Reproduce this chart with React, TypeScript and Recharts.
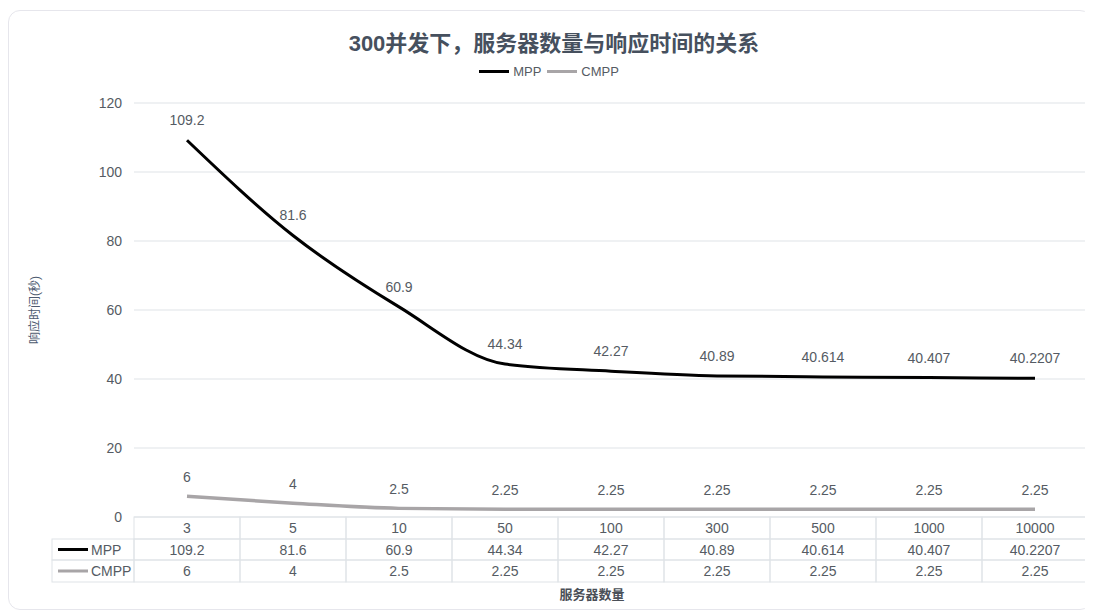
import { LineChart, Line, XAxis, YAxis, CartesianGrid, Legend, LabelList } from "recharts";

const servers = ["3", "5", "10", "50", "100", "300", "500", "1000", "10000"];
const mpp = [109.2, 81.6, 60.9, 44.34, 42.27, 40.89, 40.614, 40.407, 40.2207];
const cmpp = [6, 4, 2.5, 2.25, 2.25, 2.25, 2.25, 2.25, 2.25];
const yTicks = [0, 20, 40, 60, 80, 100, 120];

const data = servers.map((s, i) => ({ name: s, MPP: mpp[i], CMPP: cmpp[i] }));

const FONT = "'Liberation Sans', 'Noto Sans CJK SC', sans-serif";
const MPP_COLOR = "#000000";
const CMPP_COLOR = "#a8a5a7";
const GRID = "#dfe3e7";
const TEXT = "#555b63";

const ROWS = [0, 22, 43, 65];

const TableTick = (props: any) => {
	const { x, y, payload, index, width } = props;
	const colW = width / servers.length;
	const left = x - colW / 2;
	const i = index;
	const cells = [payload.value, String(mpp[i]), String(cmpp[i])];
	return (
		<g>
			{cells.map((c, r) => (
				<g key={r}>
					<rect
						x={left}
						y={y + ROWS[r]}
						width={colW}
						height={ROWS[r + 1] - ROWS[r]}
						fill="none"
						stroke={GRID}
					/>
					<text
						x={x}
						y={y + (ROWS[r] + ROWS[r + 1]) / 2 + 5}
						textAnchor="middle"
						fontSize={14}
						fill={TEXT}
						fontFamily={FONT}
					>
						{c}
					</text>
				</g>
			))}
			{i === 0 &&
				[
					{ name: "MPP", color: MPP_COLOR },
					{ name: "CMPP", color: CMPP_COLOR },
				].map((s, r) => {
					const top = y + ROWS[r + 1];
					const h = ROWS[r + 2] - ROWS[r + 1];
					return (
						<g key={s.name}>
							<rect x={left - 82} y={top} width={82} height={h} fill="none" stroke={GRID} />
							<line
								x1={left - 76}
								x2={left - 46}
								y1={top + h / 2}
								y2={top + h / 2}
								stroke={s.color}
								strokeWidth={3}
							/>
							<text x={left - 43} y={top + h / 2 + 5} fontSize={14} fill={TEXT} fontFamily={FONT}>
								{s.name}
							</text>
						</g>
					);
				})}
		</g>
	);
};

const LegendContent = () => (
	<div
		style={{
			display: "flex",
			justifyContent: "center",
			alignItems: "center",
			gap: 4,
			fontFamily: FONT,
			fontSize: 13,
			color: TEXT,
		}}
	>
		<span style={{ width: 30, height: 3, background: MPP_COLOR, display: "inline-block" }} />
		<span>MPP</span>
		<span style={{ width: 30, height: 3, background: CMPP_COLOR, display: "inline-block", marginLeft: 2 }} />
		<span>CMPP</span>
	</div>
);

const YLabel = (props: any) => {
	const { viewBox } = props;
	const cy = viewBox.y + viewBox.height / 2;
	return (
		<text
			x={26}
			y={cy}
			transform={`rotate(-90, 26, ${cy})`}
			textAnchor="middle"
			dominantBaseline="central"
			fontSize={12}
			fill="#4d5a70"
			fontFamily={FONT}
		>
			响应时间(秒)
		</text>
	);
};

export default function App() {
	return (
		<div
			style={{
				position: "relative",
				width: 1082,
				height: 598,
				marginTop: 2,
				border: "1px solid #e6e6ec",
				borderRadius: 12,
				background: "#fff",
			}}
		>
			<div
				style={{
					position: "absolute",
					top: 14,
					left: 0,
					width: "100%",
					textAlign: "center",
					fontFamily: FONT,
					fontSize: 22,
					fontWeight: "bold",
					color: "#46505e",
					zIndex: 1,
				}}
			>
				<span style={{ marginLeft: 8 }}>300并发下，服务器数量与响应时间的关系</span>
			</div>
			<LineChart width={1080} height={596} data={data} margin={{ top: 92, right: 1, left: 0, bottom: 20 }}>
				<CartesianGrid vertical={false} stroke={GRID} />
				<XAxis
					dataKey="name"
					scale="band"
					axisLine={false}
					tickLine={false}
					tickSize={0}
					tickMargin={0}
					interval={0}
					height={70}
					tick={<TableTick />}
					label={{
						value: "服务器数量",
						position: "insideBottom",
						offset: -12,
						dx: -19,
						fontSize: 13,
						fontWeight: "bold",
						fill: "#4a4f57",
						fontFamily: FONT,
					}}
				/>
				<YAxis
					domain={[0, 120]}
					ticks={yTicks}
					axisLine={false}
					tickLine={false}
					tickSize={0}
					tickMargin={12}
					width={125}
					tick={{ fontSize: 14, fill: TEXT, fontFamily: FONT }}
					label={<YLabel />}
				/>
				<Legend
					verticalAlign="middle"
					align="center"
					layout="horizontal"
					content={<LegendContent />}
					wrapperStyle={{ top: 53, left: 0, width: 1080 }}
				/>
				<Line
					type="monotone"
					dataKey="MPP"
					stroke={MPP_COLOR}
					strokeWidth={3}
					dot={false}
					isAnimationActive={false}
				>
					<LabelList dataKey="MPP" position="top" offset={15} fontSize={14} fill={TEXT} fontFamily={FONT} />
				</Line>
				<Line
					type="monotone"
					dataKey="CMPP"
					stroke={CMPP_COLOR}
					strokeWidth={3.5}
					dot={false}
					isAnimationActive={false}
				>
					<LabelList dataKey="CMPP" position="top" offset={14} fontSize={14} fill={TEXT} fontFamily={FONT} />
				</Line>
			</LineChart>
		</div>
	);
}
